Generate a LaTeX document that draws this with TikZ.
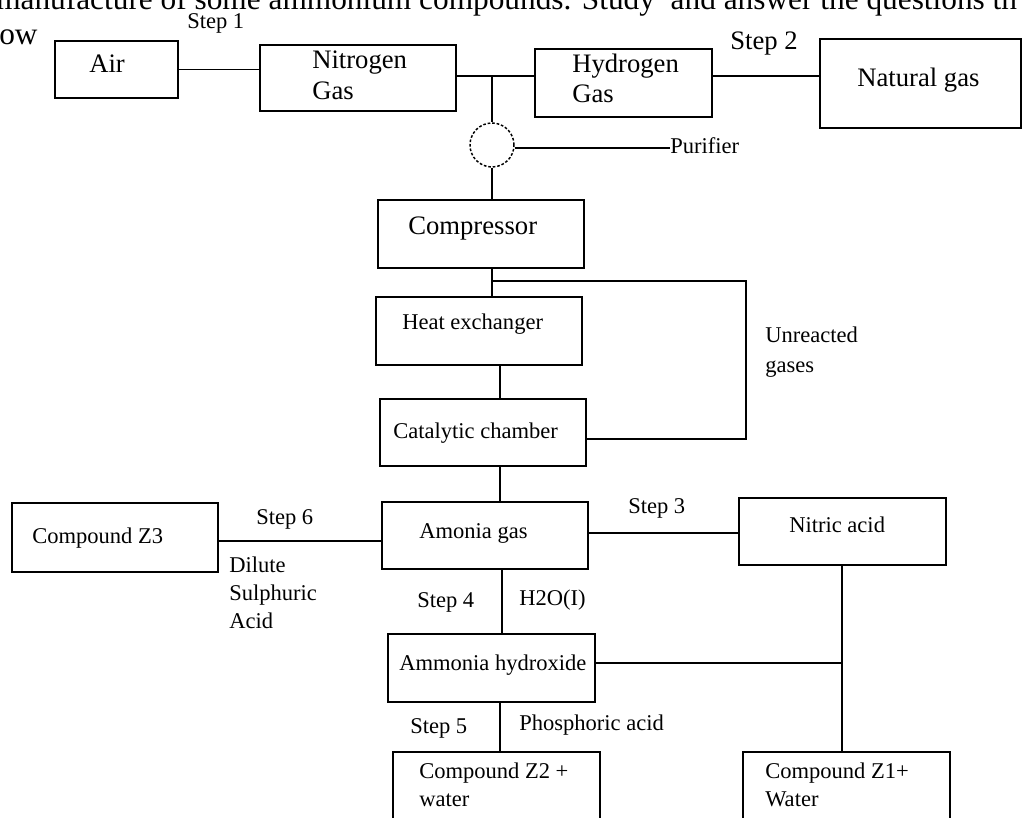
\documentclass[tikz,border=0pt]{standalone}
\usepackage{fontspec}
\setmainfont{Liberation Serif}
\usetikzlibrary{fit}
\begin{document}
\begin{tikzpicture}[x=0.75pt,y=-0.75pt,
  box/.style={draw, line width=1.2pt, inner sep=0pt},
  ln/.style={line width=1.2pt},
  lbl/.style={inner sep=0pt, anchor=base west, font=\fontsize{16.9}{22.5}\selectfont},
  big/.style={inner sep=0pt, anchor=base west, font=\fontsize{20}{24}\selectfont},
  head/.style={inner sep=0pt, anchor=base west, font=\fontsize{23.5}{28}\selectfont}]
\useasboundingbox (0,0) rectangle (1027,817);
\fill[white] (0,0) rectangle (1027,817);
\clip (0,0) rectangle (1027,817);

% heading text (cut off)
\node[head] (h1) at (-4,10) {manufacture of some ammonium compounds. Study\ \ and answer the questions th};
\node[head] (h2) at (-1,45) {ow};

% boxes
\node[box, fit={(55,41)(178,98)}] (air) {};
\node[box, fit={(260,45)(456,111)}] (nit) {};
\node[box, fit={(535,49)(712,117)}] (hyd) {};
\node[box, fit={(820,39)(1021,128)}] (nat) {};
\node[draw, circle, line width=1.1pt, dash pattern=on 2pt off 1.4pt, inner sep=0pt, minimum size=33pt] (circ) at (492,145) {};
\node[box, fit={(378,200)(584,268)}] (comp) {};
\node[box, fit={(376,297)(582,365)}] (heat) {};
\node[box, fit={(380,399)(586,466)}] (cat) {};
\node[box, fit={(382,502)(588,569)}] (amg) {};
\node[box, fit={(739,498)(946,565)}] (nac) {};
\node[box, fit={(12,503)(218,572)}] (z3) {};
\node[box, fit={(388,634)(595,702)}] (amh) {};
\node[box, fit={(393,752)(600,840)}] (z2) {};
\node[box, fit={(743,752)(950,840)}] (z1) {};

% texts
\node[big] (tair) at (89,73) {Air};
\node[big] (tnit1) at (312,69) {Nitrogen};
\node[big] (tnit2) at (312,99) {Gas};
\node[big] (thyd1) at (572,73) {Hydrogen};
\node[big] (thyd2) at (572,103) {Gas};
\node[big] (tnat) at (857,86) {Natural gas};
\node[lbl] (s1) at (187,29) {Step 1};
\node[big] (s2) at (730,50) {Step 2};
\node[lbl] (pur) at (670,153) {Purifier};
\node[big] (tcomp) at (408,234) {Compressor};
\node[lbl] (theat) at (402,329) {Heat exchanger};
\node[lbl] (tcat) at (393,438) {Catalytic chamber};
\node[lbl] (un1) at (765,342) {Unreacted};
\node[lbl] (un2) at (765,372) {gases};
\node[lbl] (tamg) at (419,538) {Amonia gas};
\node[lbl] (s3) at (628,513) {Step 3};
\node[lbl] (s6) at (256,524) {Step 6};
\node[lbl] (tz3) at (32,543) {Compound Z3};
\node[lbl] (d1) at (229,572) {Dilute};
\node[lbl] (d2) at (229,600) {Sulphuric};
\node[lbl] (d3) at (229,628) {Acid};
\node[lbl] (tnac) at (789,532) {Nitric acid};
\node[lbl] (s4) at (417,607) {Step 4};
\node[lbl] (h2o) at (519,605) {H2O(I)};
\node[lbl] (tamh) at (399,670) {Ammonia hydroxide};
\node[lbl] (s5) at (410,733) {Step 5};
\node[lbl] (pa) at (519,730) {Phosphoric acid};
\node[lbl] (tz2a) at (419,778) {Compound Z2 +};
\node[lbl] (tz2b) at (419,806) {water};
\node[lbl] (tz1a) at (765,778) {Compound Z1+};
\node[lbl] (tz1b) at (765,806) {Water};

% connector helper coordinates
\coordinate (j1) at (492,76);
\coordinate (j2) at (492,281);
\coordinate (u1) at (746,281);
\coordinate (u2) at (746,439);
\coordinate (xa) at (500,0);
\coordinate (xb) at (502,0);
\coordinate (y6) at (0,541);
\coordinate (y3) at (0,533);
\coordinate (nx) at (842,663);

% connectors
\draw[ln] (air.east) -- (air.east -| nit.west);
\draw[ln] (nit.east |- j1) -- (hyd.west |- j1);
\draw[ln] (hyd.east |- j1) -- (nat.west |- j1);
\draw[ln] (j1) -- (circ.north);
\draw[ln] (circ.-8) -- (circ.-8 -| pur.west);
\draw[ln] (circ.south) -- (circ.south |- comp.north);
\draw[ln] (comp.south -| j2) -- (heat.north -| j2);
\draw[ln] (j2) -- (u1) -- (u2) -- (u2 -| cat.east);
\draw[ln] (heat.south -| xa) -- (cat.north -| xa);
\draw[ln] (cat.south -| xa) -- (amg.north -| xa);
\draw[ln] (z3.east |- y6) -- (amg.west |- y6);
\draw[ln] (amg.east |- y3) -- (nac.west |- y3);
\draw[ln] (amg.south -| xb) -- (amh.north -| xb);
\draw[ln] (nac.south -| nx) -- (z1.north -| nx);
\draw[ln] (amh.east |- nx) -- (nx);
\draw[ln] (amh.south -| xa) -- (z2.north -| xa);
\end{tikzpicture}
\end{document}
